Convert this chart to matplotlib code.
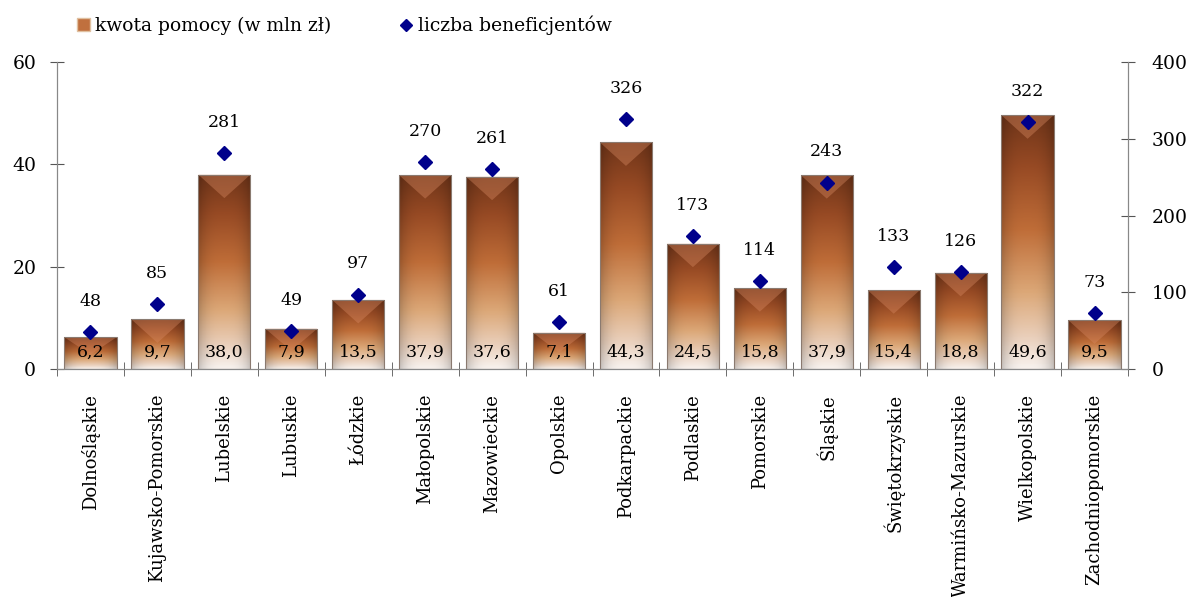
import numpy as np
import matplotlib.pyplot as plt
from matplotlib.colors import LinearSegmentedColormap
from matplotlib.patches import Polygon, Patch
from matplotlib.lines import Line2D

regions = ['Dolnośląskie', 'Kujawsko-Pomorskie', 'Lubelskie', 'Lubuskie', 'Łódzkie',
           'Małopolskie', 'Mazowieckie', 'Opolskie', 'Podkarpackie', 'Podlaskie',
           'Pomorskie', 'Śląskie', 'Świętokrzyskie', 'Warmińsko-Mazurskie',
           'Wielkopolskie', 'Zachodniopomorskie']
kwota = [6.2, 9.7, 38.0, 7.9, 13.5, 37.9, 37.6, 7.1, 44.3, 24.5, 15.8, 37.9, 15.4, 18.8, 49.6, 9.5]
beneficjenci = [48, 85, 281, 49, 97, 270, 261, 61, 326, 173, 114, 243, 133, 126, 322, 73]

plt.rcParams['font.family'] = ['DejaVu Serif']
plt.rcParams['font.size'] = 12

fig = plt.figure(figsize=(11.93, 5.97), dpi=100)
ax = fig.add_axes([0.0478, 0.382, 0.8977, 0.514])
ax2 = ax.twinx()

x = np.arange(len(regions))
bars = ax.bar(x, kwota, width=0.78, color='none', edgecolor='#8a7a70', linewidth=0.8, zorder=2)

# vertical gradient: dark brown at top, light cream at bottom
grad = LinearSegmentedColormap.from_list('brown', [(0, '#f8f2ee'), (0.12, '#ead0bc'), (0.3, '#dca878'),
                                                   (0.55, '#bf6d38'), (0.8, '#974a24'), (1, '#703519')])
for b in bars:
    x0, w, h = b.get_x(), b.get_width(), b.get_height()
    ny, nx = 200, 40
    v = np.linspace(0, 1, ny)[:, None] * np.ones((1, nx))
    rgb = grad(v)[:, :, :3]
    hx = np.abs(np.linspace(-1, 1, nx))[None, :]
    shade = 1 - 0.2 * hx ** 3
    rgb = rgb * shade[:, :, None]
    im = ax.imshow(rgb, extent=[x0, x0 + w, 0, h], origin='lower', aspect='auto', zorder=1.5)
    im.set_clip_path(b)
    th = min(4.6, 0.55 * h)
    tri = Polygon([[x0, h], [x0 + w, h], [x0 + w / 2, h - th]], closed=True,
                  facecolor='#d88a62', alpha=0.4, edgecolor='none', zorder=1.8)
    ax.add_patch(tri)
    ax.annotate(f'{h:.1f}'.replace('.', ','), (x0 + w / 2, 0), xytext=(0, 12),
                textcoords='offset points', ha='center', va='center', fontsize=12.5, zorder=4)

ax2.plot(x, beneficjenci, linestyle='none', marker='D', markersize=7.5, color='#00008b', zorder=5)
for xi, n in zip(x, beneficjenci):
    ax2.annotate(str(n), (xi, n), xytext=(0, 22), textcoords='offset points',
                 ha='center', va='center', fontsize=12.5)

ax.set_xlim(-0.5, len(regions) - 0.5)
ax.set_ylim(0, 60)
ax2.set_ylim(0, 400)
ax.set_yticks([0, 20, 40, 60])
ax2.set_yticks([0, 100, 200, 300, 400])

ax.set_xticks(x)
ax.set_xticklabels(regions, rotation=90, fontsize=13)
ax.tick_params(axis='x', length=0, pad=18)
ax.set_xticks(np.arange(-0.5, len(regions)), minor=True)
ax.tick_params(axis='x', which='minor', direction='inout', length=10, color='#555555')
ax.tick_params(axis='y', direction='inout', length=10, color='#555555', pad=10, labelsize=13.5)
ax2.tick_params(axis='y', direction='inout', length=10, color='#555555', pad=12, labelsize=13.5)

for a in (ax, ax2):
    a.spines['top'].set_visible(False)
    for s in ('left', 'right', 'bottom'):
        a.spines[s].set_color('#888888')

handles = [Patch(facecolor='#c0703e', edgecolor='#e0c0a0'),
           Line2D([], [], linestyle='none', marker='D', markersize=6, color='#00008b')]
fig.legend(handles, ['kwota pomocy (w mln zł)', 'liczba beneficjentów'], loc='center left',
           bbox_to_anchor=(0.05, 0.957), ncol=2, frameon=False, fontsize=13.5,
           handlelength=0.7, handleheight=0.7, handletextpad=0.3, columnspacing=3.6)

fig.savefig('out.png', dpi=100)
